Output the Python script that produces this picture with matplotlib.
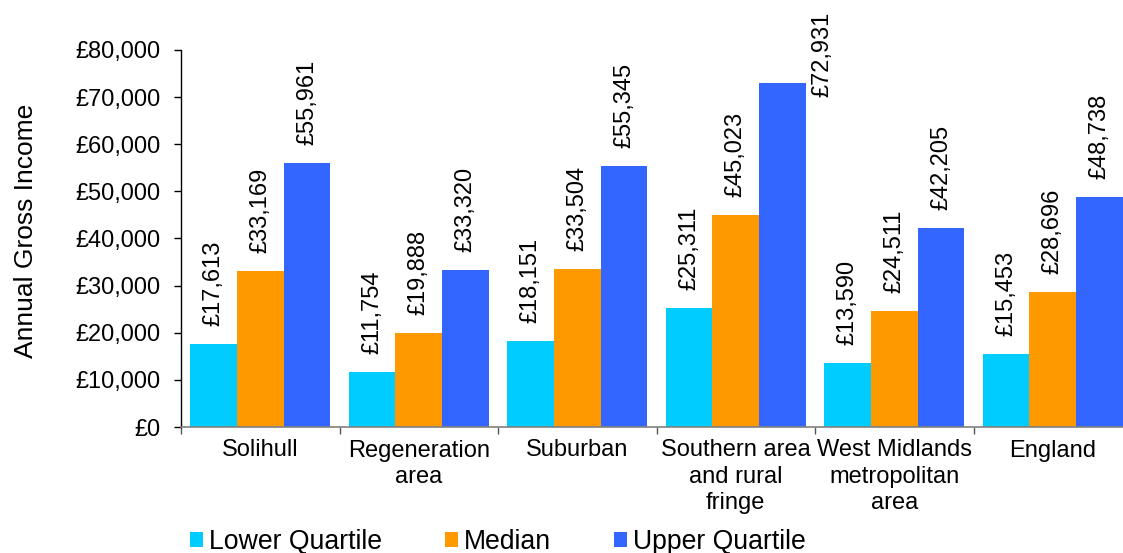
import numpy as np
import matplotlib
matplotlib.use('Agg')
import matplotlib.pyplot as plt
from matplotlib.ticker import FuncFormatter, FixedLocator

plt.rcParams['font.family'] = ['Liberation Sans', 'DejaVu Sans']

areas = ['Solihull', 'Regeneration\narea', 'Suburban', 'Southern area\nand rural\nfringe',
         'West Midlands\nmetropolitan\narea', 'England']
lower_quartile = [17613, 11754, 18151, 25311, 13590, 15453]
median = [33169, 19888, 33504, 45023, 24511, 28696]
upper_quartile = [55961, 33320, 55345, 72931, 42205, 48738]

series = [('Lower Quartile', lower_quartile, '#00CCFF'),
          ('Median', median, '#FF9900'),
          ('Upper Quartile', upper_quartile, '#3366FF')]

fs = 17
fig = plt.figure(figsize=(11.23, 5.53), dpi=100)
# axes run a little past the right edge of the figure
ax = fig.add_axes([181 / 1123, 126 / 553, 951 / 1123, 377 / 553])

x = np.arange(len(areas))
w = 0.295
for i, (name, vals, col) in enumerate(series):
    pos = x + (i - 1) * w
    bars = ax.bar(pos, vals, width=w, color=col, label=name, linewidth=0)
    for b, v in zip(bars, vals):
        txt = '£{:,.0f}'.format(v)
        if v > 70000:
            # no room above: put it next to the bar
            ax.annotate(txt, (b.get_x() + b.get_width(), v), xytext=(4, -10),
                        textcoords='offset points', rotation=90, ha='left', va='bottom',
                        fontsize=fs)
        else:
            ax.annotate(txt, (b.get_x() + b.get_width() / 2, v), xytext=(0, 13),
                        textcoords='offset points', rotation=90, ha='center', va='bottom',
                        fontsize=fs)

ax.set_xlim(-0.5, len(areas) - 0.5)
ax.set_ylim(0, 80000)
ax.set_yticks(np.arange(0, 80001, 10000))
ax.yaxis.set_major_formatter(FuncFormatter(lambda v, _: '£{:,.0f}'.format(v)))
ax.tick_params(axis='y', labelsize=fs, length=5, width=1, pad=10)

ax.set_xticks(x)
ax.set_xticklabels(areas, fontsize=fs, linespacing=1.25)
ax.xaxis.set_minor_locator(FixedLocator(np.arange(-0.5, len(areas), 1)))
ax.tick_params(axis='x', which='major', length=0, pad=9)
ax.tick_params(axis='x', which='minor', length=5, width=1, color='#555555')

for s in ['top', 'right']:
    ax.spines[s].set_visible(False)
ax.spines['bottom'].set_color('#808080')
ax.spines['bottom'].set_linewidth(1.2)
ax.spines['left'].set_linewidth(1)

ax.set_ylabel('Annual Gross Income', fontsize=19)
ax.yaxis.set_label_coords(-0.150, 0.52)

fig.legend(loc='center left', bbox_to_anchor=(190 / 1123, 11 / 553), ncol=3, frameon=False,
           fontsize=19.2, handlelength=0.48, handleheight=0.48, handletextpad=0.22,
           columnspacing=2.37, borderpad=0, borderaxespad=0)

fig.savefig('out.png', dpi=100)
